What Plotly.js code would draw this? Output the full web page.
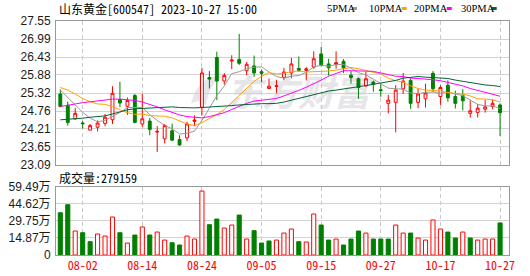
<!DOCTYPE html>
<html><head><meta charset="utf-8">
<script src="https://cdn.plot.ly/plotly-3.0.1.min.js"></script>
<style>html,body{margin:0;padding:0;background:#fff}#chart{width:530px;height:276px}</style>
</head><body><div id="chart"></div>
<script>
// ---- data ----
const stockName = '山东黄金';
const stockCode = '600547';
const stamp = '2023-10-27 15:00';
const volumeNow = 279159;
const dates = ['07-28','07-31','08-01','08-02','08-03','08-04','08-07','08-08','08-09','08-10','08-11','08-14','08-15','08-16','08-17','08-18','08-21','08-22','08-23','08-24','08-25','08-28','08-29','08-30','08-31','09-01','09-04','09-05','09-06','09-07','09-08','09-11','09-12','09-13','09-14','09-15','09-18','09-19','09-20','09-21','09-22','09-25','09-26','09-27','09-28','10-09','10-10','10-11','10-12','10-13','10-16','10-17','10-18','10-19','10-20','10-23','10-24','10-25','10-26','10-27'];
const open  = [25.29,24.94,24.52,24.39,24.17,24.26,24.38,24.49,25.12,24.91,25.24,24.36,24.45,24.11,23.90,24.15,23.88,23.93,24.44,24.88,25.80,26.42,25.69,26.31,26.36,26.01,26.16,25.98,25.46,25.52,25.80,25.94,26.08,26.02,26.12,26.53,26.22,26.20,26.30,25.87,25.76,25.54,25.66,25.42,25.00,25.03,25.45,25.71,25.03,25.14,25.93,25.21,25.56,25.21,25.24,24.69,24.72,24.82,24.90,24.95];
const high  = [25.43,25.05,24.86,24.45,24.36,24.47,24.67,25.53,25.67,25.18,25.29,25.29,24.55,24.29,24.36,24.37,24.01,24.43,24.63,26.10,26.00,26.60,25.94,26.49,27.15,26.28,26.48,26.05,25.77,25.73,26.10,26.41,26.45,26.12,26.61,26.75,26.38,26.61,26.37,26.00,25.80,25.97,25.71,25.59,25.26,25.56,25.94,25.77,25.46,25.61,26.00,25.56,25.71,25.39,25.44,25.10,24.98,25.10,25.12,25.00];
const low   = [24.88,24.31,24.49,24.22,24.17,24.13,24.29,24.36,24.88,24.64,24.38,24.27,24.01,23.49,23.76,23.83,23.69,23.83,24.29,24.63,25.46,25.10,25.58,26.06,26.19,25.87,25.82,25.65,25.46,25.31,25.71,25.77,25.97,25.71,26.07,26.14,25.86,26.07,25.94,25.61,25.14,25.51,25.36,25.20,24.69,24.10,25.29,24.83,24.85,24.87,25.35,24.95,25.05,24.84,24.78,24.56,24.56,24.71,24.82,23.99];
const close = [24.90,24.41,24.69,24.37,24.31,24.39,24.57,25.31,25.01,25.09,24.41,24.52,24.19,24.13,24.31,23.86,23.71,24.36,24.48,25.94,25.75,25.69,25.86,26.34,26.24,26.21,25.94,25.93,25.53,25.54,25.97,26.22,26.02,26.07,26.38,26.19,26.10,26.26,26.09,25.80,25.49,25.76,25.59,25.40,25.10,25.41,25.69,25.00,25.29,25.32,25.45,25.49,25.17,25.00,25.08,24.77,24.85,24.89,25.00,24.71];
const ma5  = [25.41,25.18,24.95,24.72,24.54,24.43,24.47,24.59,24.72,24.87,24.88,24.87,24.65,24.47,24.32,24.21,24.05,24.07,24.14,24.47,24.85,25.24,25.54,25.92,25.98,26.07,26.12,26.13,25.97,25.83,25.78,25.84,25.86,25.96,26.13,26.18,26.15,26.20,26.20,26.09,25.95,25.88,25.75,25.61,25.47,25.45,25.44,25.32,25.30,25.34,25.35,25.31,25.34,25.29,25.24,25.10,24.97,24.92,24.92,24.84];
const ma10 = [25.49,25.41,25.29,25.15,25.05,24.98,24.97,24.90,24.80,24.71,24.66,24.67,24.62,24.60,24.60,24.55,24.46,24.36,24.31,24.40,24.53,24.65,24.81,25.03,25.23,25.46,25.68,25.84,25.95,25.91,25.93,25.98,26.00,25.97,25.98,25.98,26.00,26.03,26.08,26.11,26.07,26.02,25.98,25.91,25.78,25.70,25.66,25.54,25.46,25.41,25.40,25.38,25.33,25.30,25.29,25.23,25.14,25.13,25.11,25.04];
const ma20 = [24.90,24.93,24.98,25.02,25.05,25.08,25.10,25.13,25.13,25.12,25.09,25.04,24.97,24.89,24.80,24.71,24.64,24.59,24.56,24.55,24.59,24.66,24.71,24.81,24.91,25.00,25.07,25.10,25.13,25.15,25.23,25.31,25.40,25.50,25.60,25.72,25.84,25.93,26.01,26.01,26.00,26.00,25.99,25.94,25.88,25.84,25.83,25.78,25.77,25.76,25.73,25.70,25.65,25.60,25.54,25.46,25.40,25.33,25.28,25.22];
const ma30 = [24.49,24.50,24.52,24.54,24.57,24.59,24.61,24.67,24.73,24.80,24.83,24.84,24.85,24.86,24.87,24.89,24.87,24.86,24.86,24.87,24.88,24.90,24.92,24.93,24.95,24.97,24.98,24.99,24.99,25.00,25.04,25.10,25.14,25.20,25.27,25.33,25.38,25.41,25.44,25.47,25.51,25.55,25.59,25.63,25.66,25.71,25.78,25.80,25.83,25.81,25.80,25.79,25.77,25.72,25.68,25.64,25.60,25.57,25.55,25.52];
const volume = [36.8,43.8,20.9,19.4,11.6,18.3,16.5,33.1,19.4,10.4,17.4,24.4,17.4,20.0,13.0,10.7,8.7,16.5,13.9,55.7,26.4,31.3,23.5,26.1,34.8,13.9,21.2,10.4,12.2,13.0,19.1,22.6,11.6,11.3,35.7,26.1,13.0,13.9,8.7,13.9,20.9,19.1,13.9,13.9,13.9,26.1,19.1,19.1,14.8,13.0,30.5,22.6,20.0,14.8,20.0,14.8,13.0,13.9,13.9,27.92];
const volUp  = [0,0,1,0,0,1,1,1,0,1,0,1,0,1,1,0,0,1,1,1,0,0,1,1,0,1,0,0,0,1,1,1,0,1,1,0,0,1,0,0,0,1,0,0,0,1,1,0,1,1,1,1,0,0,1,0,1,1,1,0];
const tickLabels = ['08-02','08-14','08-24','09-05','09-15','09-27','10-17','10-27'];
const priceTicks = [23.09,23.65,24.21,24.76,25.32,25.88,26.43,26.99,27.55];
const volTicks = [0,14.87,29.75,44.62,59.49];
const maNames = ['5PMA','10PMA','20PMA','30PMA'];

// ---- styling / layout ----
const RED='#ff0000', GREEN='#008000';
const maColors=['#9a9a9a','#ffa200','#ff00ff','#006633'];
const L=56, T=21, W=453, H=234;
const px = x => (x-L)/W, py = y => (T+H-y)/H;
const xs = dates.map((d,i)=>i);
const tickVals = tickLabels.map(t=>dates.indexOf(t));
const monoFont = 'Noto Sans Mono CJK SC, Liberation Mono, monospace';

const traces = [{
  type:'candlestick', x:xs, open:open, high:high, low:low, close:close,
  xaxis:'x', yaxis:'y', whiskerwidth:0, hoverinfo:'skip',
  increasing:{line:{color:RED,width:1}, fillcolor:'#ffffff'},
  decreasing:{line:{color:GREEN,width:1}, fillcolor:GREEN}
}];
[ma5,ma10,ma20,ma30].forEach((m,k)=>traces.push({
  type:'scatter', mode:'lines', x:xs, y:m, xaxis:'x', yaxis:'y',
  line:{color:maColors[k], width:1}, hoverinfo:'skip'
}));
traces.push({
  type:'bar', x:xs, y:volume, xaxis:'x2', yaxis:'y2', width:0.55,
  marker:{color:volUp.map(u=>u?'#ffffff':GREEN), line:{color:volUp.map(u=>u?RED:GREEN), width:1}},
  hoverinfo:'skip'
});

const xr=[-0.58,60.2];
const axisX = {range:xr, tickvals:tickVals, ticktext:tickLabels, showgrid:true, gridcolor:'#c8c8c8', griddash:'4px,3px', gridwidth:1,
  showline:true, mirror:true, linecolor:'#999999', linewidth:1, zeroline:false, ticks:'', fixedrange:true};
const axisY = {showgrid:true, gridcolor:'#d2d2d2', gridwidth:1, showline:true, mirror:true, linecolor:'#999999', linewidth:1,
  zeroline:false, ticks:'', fixedrange:true, tickfont:{family:'Liberation Sans, Noto Sans CJK SC, sans-serif', size:12, color:'#1a1a1a'}, ticklabelstandoff:2};

const annotations = [
  {xref:'paper', yref:'paper', x:px(57), y:py(9), xanchor:'left', yanchor:'middle', showarrow:false,
   text: stockName+'['+stockCode+'] '+stamp, font:{family:monoFont, size:12, color:'#000'}},
  {xref:'paper', yref:'paper', x:px(57), y:py(177), xanchor:'left', yanchor:'middle', showarrow:false,
   text: '成交量:'+volumeNow, font:{family:monoFont, size:12, color:'#000'}}
];
const legX=[325,366.7,412.3,459.3], swX=[352,401.7,446.7,491.7];
const shapes=[];
maNames.forEach((n,k)=>{
  annotations.push({xref:'paper', yref:'paper', x:px(legX[k]), y:py(9), xanchor:'left', yanchor:'middle', showarrow:false,
    text:n, font:{family:'Liberation Serif, serif', size:10.5, color:'#000'}});
  shapes.push({type:'rect', xref:'paper', yref:'paper', x0:px(swX[k]), x1:px(swX[k]+5), y0:py(10), y1:py(7), fillcolor:maColors[k], line:{width:0}});
});

const wm = '<svg xmlns="http://www.w3.org/2000/svg" width="184" height="42" viewBox="0 0 184 42">'+
  '<path d="M3 34 C8 14 20 4 36 6 C26 10 20 20 18 36 C14 30 9 30 3 34 Z" fill="#e6e6ea"/>'+
  '<text x="38" y="36" font-family="Noto Sans CJK SC" font-weight="bold" font-style="italic" font-size="36" fill="#e6e6ea">东方财富</text></svg>';

const layout = {
  width:530, height:276, margin:{l:L, r:530-L-W, t:T, b:276-T-H, pad:0},
  paper_bgcolor:'#ffffff', plot_bgcolor:'rgba(0,0,0,0)', showlegend:false, boxgap:0.45, bargap:0.4,
  xaxis: Object.assign({}, axisX, {anchor:'y', showticklabels:false, rangeslider:{visible:false}}),
  yaxis: Object.assign({}, axisY, {domain:[py(165),1], range:[23.09,27.55], tickvals:priceTicks, ticktext:priceTicks.map(v=>v.toFixed(2))}),
  xaxis2: Object.assign({}, axisX, {anchor:'y2', showticklabels:true, tickfont:{family:monoFont, size:12, color:RED}}),
  yaxis2: Object.assign({}, axisY, {domain:[0,py(186.7)], range:[0,59.49], tickvals:volTicks, ticktext:volTicks.map(v=>v===0?'0':v.toFixed(2)+'万')}),
  annotations:annotations, shapes:shapes,
  images:[{source:'data:image/svg+xml;charset=utf-8,'+encodeURIComponent(wm), xref:'paper', yref:'paper',
    x:px(188), y:py(70), sizex:184/W, sizey:42/H, xanchor:'left', yanchor:'top', sizing:'stretch', layer:'below'}]
};
Plotly.newPlot('chart', traces, layout, {staticPlot:true, displayModeBar:false});
</script></body></html>
